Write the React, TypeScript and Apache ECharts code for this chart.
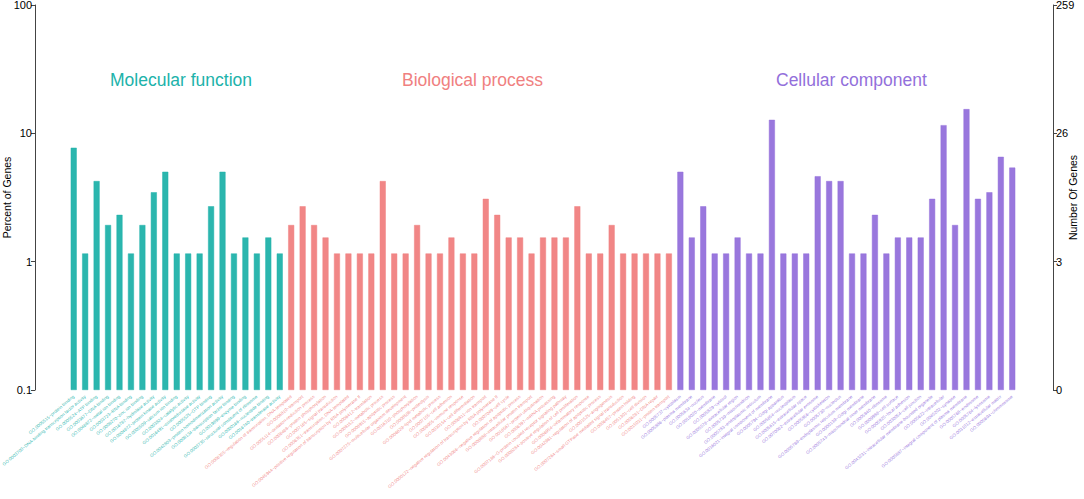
import React, { useEffect, useRef } from "react";
import * as echarts from "echarts";

const TOTAL_GENES = 259;

const mfTerms = [
  "GO:0005515~protein binding",
  "GO:0003700~DNA-binding transcription factor activity",
  "GO:0005524~ATP binding",
  "GO:0003677~DNA binding",
  "GO:0046872~metal ion binding",
  "GO:0003723~RNA binding",
  "GO:0008270~zinc ion binding",
  "GO:0016787~hydrolase activity",
  "GO:0004672~protein kinase activity",
  "GO:0005509~calcium ion binding",
  "GO:0003824~catalytic activity",
  "GO:0016491~oxidoreductase activity",
  "GO:0005525~GTP binding",
  "GO:0042803~protein homodimerization activity",
  "GO:0008134~transcription factor binding",
  "GO:0019899~enzyme binding",
  "GO:0003735~structural constituent of ribosome",
  "GO:0000166~nucleotide binding",
  "GO:0016740~transferase activity",
];
const mfCounts = [20, 3, 11, 5, 6, 3, 5, 9, 13, 3, 3, 3, 7, 13, 3, 4, 3, 4, 3];

const bpTerms = [
  "GO:0006355~regulation of transcription, DNA-templated",
  "GO:0006810~transport",
  "GO:0055114~oxidation-reduction process",
  "GO:0006468~protein phosphorylation",
  "GO:0007165~signal transduction",
  "GO:0006351~transcription, DNA-templated",
  "GO:0045944~positive regulation of transcription by RNA polymerase II",
  "GO:0006412~translation",
  "GO:0008152~metabolic process",
  "GO:0006915~apoptotic process",
  "GO:0007275~multicellular organism development",
  "GO:0016310~phosphorylation",
  "GO:0006508~proteolysis",
  "GO:0006629~lipid metabolic process",
  "GO:0007155~cell adhesion",
  "GO:0006955~immune response",
  "GO:0030154~cell differentiation",
  "GO:0006811~ion transport",
  "GO:0000122~negative regulation of transcription by RNA polymerase II",
  "GO:0007049~cell cycle",
  "GO:0043066~negative regulation of apoptotic process",
  "GO:0006886~intracellular protein transport",
  "GO:0016567~protein ubiquitination",
  "GO:0006397~mRNA processing",
  "GO:0007186~G-protein coupled receptor signaling pathway",
  "GO:0008284~positive regulation of cell proliferation",
  "GO:0006954~inflammatory response",
  "GO:0042981~regulation of apoptotic process",
  "GO:0001525~angiogenesis",
  "GO:0007264~small GTPase mediated signal transduction",
  "GO:0006457~protein folding",
  "GO:0051301~cell division",
  "GO:0006281~DNA repair",
  "GO:0015031~protein transport",
];
const bpCounts = [5, 7, 5, 4, 3, 3, 3, 3, 11, 3, 3, 5, 3, 3, 4, 3, 3, 8, 6, 4, 4, 3, 4, 4, 4, 7, 3, 3, 5, 3, 3, 3, 3, 3];

const ccTerms = [
  "GO:0005737~cytoplasm",
  "GO:0005886~plasma membrane",
  "GO:0005634~nucleus",
  "GO:0016020~membrane",
  "GO:0005829~cytosol",
  "GO:0005576~extracellular region",
  "GO:0005739~mitochondrion",
  "GO:0005783~endoplasmic reticulum",
  "GO:0016021~integral component of membrane",
  "GO:0005794~Golgi apparatus",
  "GO:0005654~nucleoplasm",
  "GO:0005615~extracellular space",
  "GO:0070062~extracellular exosome",
  "GO:0005856~cytoskeleton",
  "GO:0005730~nucleolus",
  "GO:0005789~endoplasmic reticulum membrane",
  "GO:0000139~Golgi membrane",
  "GO:0005743~mitochondrial inner membrane",
  "GO:0005840~ribosome",
  "GO:0009986~cell surface",
  "GO:0005925~focal adhesion",
  "GO:0030054~cell junction",
  "GO:0043231~intracellular membrane-bounded organelle",
  "GO:0005622~intracellular",
  "GO:0045202~synapse",
  "GO:0005887~integral component of plasma membrane",
  "GO:0005768~endosome",
  "GO:0005764~lysosome",
  "GO:0031012~extracellular matrix",
  "GO:0005694~chromosome",
];
const ccCounts = [13, 4, 7, 3, 3, 4, 3, 3, 33, 3, 3, 3, 12, 11, 11, 3, 3, 6, 3, 4, 4, 4, 8, 30, 5, 40, 8, 9, 17, 14];

const groupNames = ["Molecular function", "Biological process", "Cellular component"];
const groupColors = ["#20B2AA", "#F08080", "#9370DB"];
const labelColors = ["rgba(32,178,170,0.9)", "rgba(240,128,128,0.9)", "rgba(147,112,219,0.9)"];
// left axis spans 10^-1 .. 10^2 percent (log scale)
const LOG_MIN = -1;
const LOG_MAX = 2;

const FONT = "'Liberation Sans', Arial, sans-serif";

export default function App() {
  const ref = useRef<HTMLDivElement>(null);

  useEffect(() => {
    if (!ref.current) return;
    const chart = echarts.init(ref.current, null, { renderer: "svg" });

    const groups = [
      { terms: mfTerms, counts: mfCounts },
      { terms: bpTerms, counts: bpCounts },
      { terms: ccTerms, counts: ccCounts },
    ];
    const categories: string[] = [];
    const groupIdx: number[] = [];
    const data: any[] = [];
    groups.forEach((g, gi) => {
      g.terms.forEach((t, i) => {
        categories.push(t);
        groupIdx.push(gi);
        const pct = (g.counts[i] / TOTAL_GENES) * 100;
        data.push({
          // height above the 0.1% floor, in decades
          value: Math.log10(pct) - LOG_MIN,
          itemStyle: { color: groupColors[gi], borderColor: groupColors[gi], borderWidth: 0.5, opacity: 0.95 },
        });
      });
    });

    const yCommon = {
      type: "value" as const,
      min: 0,
      max: LOG_MAX - LOG_MIN,
      interval: 1,
      splitLine: { show: false },
      axisLine: { show: true, lineStyle: { color: "#444", width: 1 } },
      axisTick: { show: true, length: 4, lineStyle: { color: "#444" } },
      nameLocation: "middle" as const,
      nameMoveOverlap: false,
      nameTextStyle: { color: "#000", fontSize: 10.5, fontFamily: FONT },
    };

    const pctOf = (v: number) => Math.pow(10, v + LOG_MIN);

    chart.setOption({
      animation: false,
      backgroundColor: "#fff",
      grid: {
        left: 68,
        right: 66,
        top: 5,
        bottom: 109,
        containLabel: false,
        outerBoundsMode: "none",
      },
      xAxis: {
        type: "category",
        data: categories,
        axisLine: { show: false },
        axisTick: { show: false },
        axisLabel: {
          interval: 0,
          rotate: 40,
          fontSize: 4.5,
          margin: 6,
          fontFamily: FONT,
          color: (_v: any, idx: number) => labelColors[groupIdx[idx]],
        },
      },
      yAxis: [
        {
          ...yCommon,
          position: "left",
          offset: 33,
          name: "Percent of Genes",
          nameGap: 23,
          axisLabel: {
            color: "#000",
            fontSize: 11,
            fontFamily: FONT,
            margin: 3,
            formatter: (v: number) => String(parseFloat(pctOf(v).toPrecision(3))),
          },
        },
        {
          ...yCommon,
          position: "right",
          offset: 35,
          name: "Number Of Genes",
          nameGap: 14,
          nameRotate: 90,
          axisLabel: {
            color: "#000",
            fontSize: 11,
            fontFamily: FONT,
            margin: 3,
            formatter: (v: number) => String(Math.round((pctOf(v) * TOTAL_GENES) / 100)),
          },
        },
      ],
      graphic: groupNames.map((name, i) => ({
        type: "text",
        left: [110, 402, 776][i],
        top: 71,
        style: {
          text: name,
          fill: groupColors[i],
          fontSize: 17.5,
          fontFamily: FONT,
        },
      })),
      series: [
        {
          type: "bar",
          yAxisIndex: 0,
          barWidth: 6,
          data,
        },
      ],
    });

    return () => chart.dispose();
  }, []);

  return (
    <div
      ref={ref}
      style={{ position: "absolute", left: 0, top: 0, width: 1084, height: 499 }}
    />
  );
}
